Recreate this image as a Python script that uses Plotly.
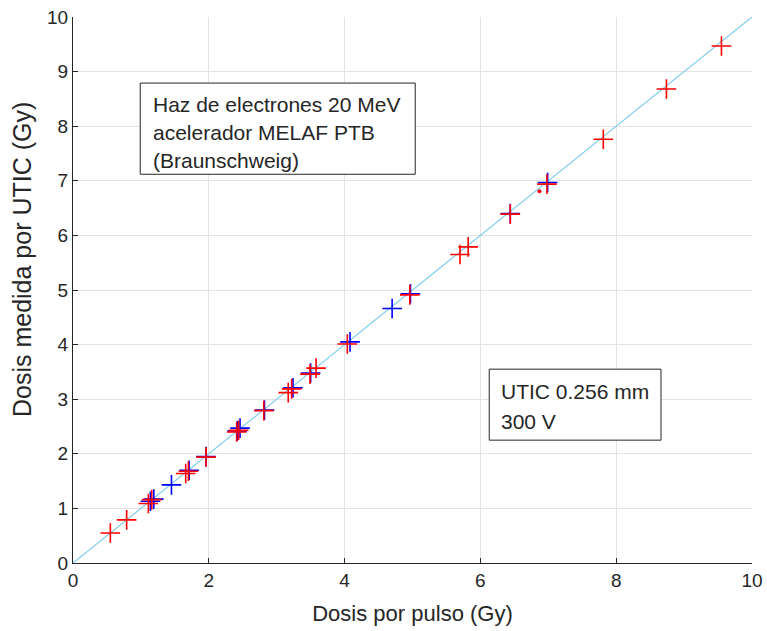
import plotly.graph_objects as go

# Data
red_x = [0.55, 0.79, 1.11, 1.16, 1.66, 1.70, 1.96, 2.41, 2.44, 2.81, 3.17, 3.22,
         3.49, 3.58, 4.04, 4.96, 5.70, 5.82, 6.44, 6.98, 7.81, 8.74, 9.55]
red_y = [0.55, 0.79, 1.09, 1.16, 1.64, 1.68, 1.94, 2.40, 2.43, 2.79, 3.12, 3.19,
         3.46, 3.57, 4.01, 4.91, 5.65, 5.79, 6.39, 6.94, 7.76, 8.68, 9.47]
blue_x = [1.14, 1.19, 1.45, 1.71, 1.96, 2.42, 2.46, 2.82, 3.24, 3.50, 4.08, 4.70,
          4.97, 6.44, 6.99]
blue_y = [1.13, 1.17, 1.43, 1.70, 1.95, 2.42, 2.47, 2.80, 3.21, 3.48, 4.05, 4.66,
          4.93, 6.40, 6.97]
dot_x = [6.87]
dot_y = [6.81]
line_x = [0, 10]
line_y = [0, 10]

x_title = "Dosis por pulso (Gy)"
y_title = "Dosis medida por UTIC (Gy)"
box1_lines = ["Haz de electrones 20 MeV", "acelerador MELAF PTB", "(Braunschweig)"]
box2_lines = ["UTIC 0.256 mm", "300 V"]

FONT = "Liberation Sans, Arial, sans-serif"
AX = "#262626"

fig = go.Figure()
fig.add_trace(go.Scatter(x=line_x, y=line_y, mode="lines",
                         line=dict(color="#80cdef", width=1.2), showlegend=False))
fig.add_trace(go.Scatter(x=blue_x, y=blue_y, mode="markers",
                         marker=dict(symbol="cross-thin", size=14,
                                     line=dict(color="#0000ff", width=1.6)),
                         showlegend=False))
fig.add_trace(go.Scatter(x=red_x, y=red_y, mode="markers",
                         marker=dict(symbol="cross-thin", size=14,
                                     line=dict(color="#ff0000", width=1.6)),
                         showlegend=False))
fig.add_trace(go.Scatter(x=dot_x, y=dot_y, mode="markers",
                         marker=dict(symbol="circle", size=4, color="#ff0000"),
                         showlegend=False))

# Text boxes
fig.add_shape(type="rect", x0=0.99, x1=5.04, y0=7.12, y1=8.79,
              line=dict(color=AX, width=1), fillcolor="white", layer="above")
fig.add_shape(type="rect", x0=6.13, x1=8.66, y0=2.25, y1=3.55,
              line=dict(color=AX, width=1), fillcolor="white", layer="above")

for i, t in enumerate(box1_lines):
    fig.add_annotation(x=1.15, y=8.40 - i * 0.515, text=t, showarrow=False,
                       xanchor="left", yanchor="middle",
                       font=dict(family=FONT, size=21, color=AX))
for i, t in enumerate(box2_lines):
    fig.add_annotation(x=6.28, y=3.15 - i * 0.55, text=t, showarrow=False,
                       xanchor="left", yanchor="middle",
                       font=dict(family=FONT, size=21, color=AX))

# y-axis title placed as rotated text
fig.add_annotation(xref="paper", yref="paper", x=-0.075, y=0.555, text=y_title,
                   textangle=-90, showarrow=False, xanchor="center", yanchor="middle",
                   font=dict(family=FONT, size=25, color=AX))

fig.update_layout(
    width=767, height=631,
    margin=dict(l=73, r=15, t=17, b=68),
    plot_bgcolor="white", paper_bgcolor="white",
    font=dict(family=FONT, color=AX),
)
fig.update_xaxes(range=[0, 10], dtick=2, showgrid=True, gridcolor="#e3e3e3",
                 zeroline=False, showline=True, linecolor=AX, linewidth=1,
                 ticks="inside", ticklen=5, tickcolor=AX, automargin=False,
                 tickfont=dict(size=19, color=AX),
                 title=dict(text=x_title, font=dict(size=22, color=AX)))
fig.update_yaxes(range=[0, 10], dtick=1, showgrid=True, gridcolor="#e3e3e3",
                 zeroline=False, showline=True, linecolor=AX, linewidth=1,
                 ticks="inside", ticklen=5, tickcolor=AX, automargin=False,
                 tickfont=dict(size=19, color=AX))

fig.write_html("out.html", config={"displayModeBar": False},
               post_script="document.body.style.margin='0';document.body.style.overflow='hidden';")
